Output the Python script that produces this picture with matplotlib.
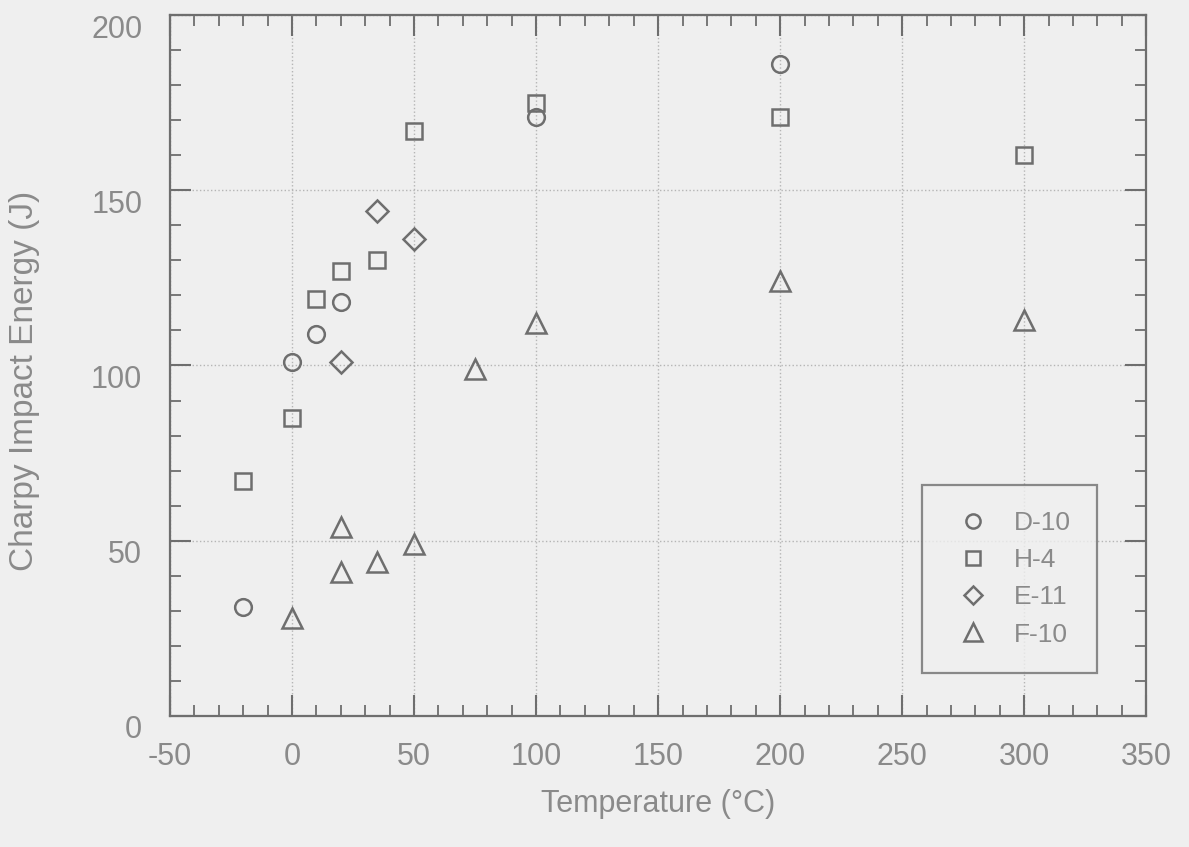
# Charpy impact energy vs. test temperature for four specimen sets
import matplotlib.pyplot as plt
from matplotlib.ticker import MultipleLocator
from matplotlib.transforms import ScaledTranslation

plt.rcParams['font.family'] = ['Liberation Sans', 'DejaVu Sans']
plt.rcParams['axes.unicode_minus'] = False

# temperature (C) / energy (J) for each specimen set
d10_temp = [-20, 0, 10, 20, 100, 200]
d10_energy = [31, 101, 109, 118, 171, 186]

h4_temp = [-20, 0, 10, 20, 35, 50, 100, 200, 300]
h4_energy = [67, 85, 119, 127, 130, 167, 175, 171, 160]

e11_temp = [20, 35, 50]
e11_energy = [101, 144, 136]

f10_temp = [0, 20, 20, 35, 50, 75, 100, 200, 300]
f10_energy = [28, 41, 54, 44, 49, 99, 112, 124, 113]

bg = '#efefef'
ink = '#6e6e6e'
txt = '#8a8a8a'

fig = plt.figure(figsize=(11.89, 8.47), dpi=100, facecolor=bg)
ax = fig.add_axes([0.143, 0.155, 0.821, 0.827], facecolor=bg)

mk = dict(linestyle='none', markerfacecolor='none', markeredgecolor=ink,
          markeredgewidth=1.8)
ax.plot(d10_temp, d10_energy, marker='o', markersize=12, label='D-10', **mk)
ax.plot(h4_temp, h4_energy, marker='s', markersize=12, label='H-4', **mk)
ax.plot(e11_temp, e11_energy, marker='D', markersize=11, label='E-11', **mk)
ax.plot(f10_temp, f10_energy, marker='^', markersize=15, label='F-10', **mk)

ax.set_xlim(-50, 350)
ax.set_ylim(0, 200)
ax.xaxis.set_major_locator(MultipleLocator(50))
ax.xaxis.set_minor_locator(MultipleLocator(10))
ax.yaxis.set_major_locator(MultipleLocator(50))
ax.yaxis.set_minor_locator(MultipleLocator(10))

ax.grid(True, which='major', linestyle=':', color='#b5b5b5', linewidth=1.0)

for s in ax.spines.values():
    s.set_color(ink)
    s.set_linewidth(1.6)

ax.tick_params(which='both', direction='in', top=True, right=True,
               color=ink, labelcolor=txt, labelsize=22)
ax.tick_params(which='major', length=15, width=1.5)
ax.tick_params(axis='x', which='major', pad=19)
ax.tick_params(axis='y', which='major', pad=20)
ax.tick_params(which='minor', length=8, width=1.3)

# y labels sit a little below their ticks
drop = ScaledTranslation(0, -8 / 72, fig.dpi_scale_trans)
for lab in ax.get_yticklabels():
    lab.set_transform(lab.get_transform() + drop)

ax.set_xlabel('Temperature (\u00b0C)', fontsize=22, color=txt)
ax.xaxis.set_label_coords(0.5, -0.105)
ax.set_ylabel('Charpy Impact Energy (J)', fontsize=24, color=txt)
ax.yaxis.set_label_coords(-0.133, 0.478)

leg = ax.legend(loc='lower left', bbox_to_anchor=(0.77, 0.061), fontsize=19,
                frameon=True, fancybox=False, handletextpad=0.6,
                labelspacing=0.5, borderpad=1.0, handlelength=1.9,
                markerscale=0.85, borderaxespad=0)
leg.get_frame().set_edgecolor(ink)
leg.get_frame().set_linewidth(1.6)
leg.get_frame().set_facecolor(bg)
for t in leg.get_texts():
    t.set_color(txt)

fig.savefig('out.png', dpi=100, facecolor=bg)
